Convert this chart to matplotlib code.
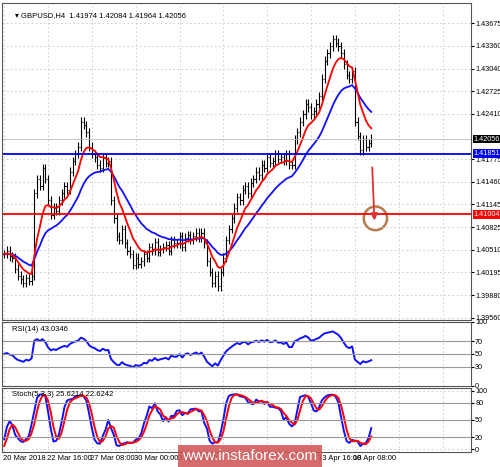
import numpy as np
import matplotlib
matplotlib.use("Agg")
import matplotlib.pyplot as plt
from matplotlib.patches import Ellipse

plt.rcParams['font.family'] = ['Liberation Sans', 'DejaVu Sans']

# GBPUSD H4 closes
closes = [1.4045,1.4050,1.4042,1.4040,1.4025,1.4015,1.4010,1.4005,1.4012,1.4008,
          1.4015,1.4130,1.4150,1.4140,1.4165,1.4150,1.4120,1.4100,1.4110,1.4105,
          1.4120,1.4130,1.4140,1.4135,1.4160,1.4175,1.4185,1.4195,1.4230,1.4225,
          1.4215,1.4195,1.4185,1.4180,1.4170,1.4165,1.4180,1.4172,1.4175,1.4120,
          1.4095,1.4070,1.4065,1.4080,1.4060,1.4050,1.4045,1.4030,1.4040,1.4032,
          1.4035,1.4045,1.4040,1.4055,1.4050,1.4062,1.4048,1.4052,1.4055,1.4058,
          1.4050,1.4065,1.4060,1.4060,1.4070,1.4055,1.4068,1.4072,1.4065,1.4070,
          1.4075,1.4068,1.4075,1.4060,1.4035,1.4020,1.4005,1.4015,1.4000,1.4020,
          1.4040,1.4065,1.4080,1.4095,1.4110,1.4125,1.4120,1.4135,1.4140,1.4130,
          1.4145,1.4150,1.4160,1.4155,1.4170,1.4165,1.4180,1.4172,1.4175,1.4185,
          1.4178,1.4180,1.4175,1.4185,1.4170,1.4170,1.4205,1.4215,1.4230,1.4240,
          1.4255,1.4250,1.4240,1.4245,1.4255,1.4265,1.4290,1.4315,1.4325,1.4335,
          1.4345,1.4340,1.4335,1.4325,1.4310,1.4295,1.4290,1.4300,1.4230,1.4210,
          1.4190,1.4205,1.4195,1.4200,1.4206]
price_ticks = [1.43675, 1.43360, 1.43040, 1.42725, 1.42410, 1.41775, 1.41460,
               1.41145, 1.40825, 1.40510, 1.40195, 1.39880, 1.39560]
date_labels = ["20 Mar 2018", "22 Mar 16:00", "27 Mar 08:00", "30 Mar 00:00",
               "3 Apr 16:00", "13 Apr 16:00", "18 Apr 08:00"]
date_pos = [0, 16, 32, 48, 64, 115, 128]
support = 1.41851
target = 1.41004
last = 1.42056

c = np.array(closes)
o = np.r_[c[0], c[:-1]]
hi = np.maximum(o, c) + 0.0006
lo = np.minimum(o, c) - 0.0006
n = len(c)
x = np.arange(n)

def ema(s, p, start=None):
    out = np.empty_like(s); out[0] = s[0] if start is None else start
    a = 2 / (p + 1)
    for i in range(1, len(s)):
        out[i] = a * s[i] + (1 - a) * out[i - 1]
    return out

def rsi(s, p=14):
    d = np.diff(s, prepend=s[0])
    up = ema(np.clip(d, 0, None), 2 * p - 1, 0.0006)
    dn = ema(np.clip(-d, 0, None), 2 * p - 1, 0.0006)
    return 100 - 100 / (1 + up / np.maximum(dn, 1e-9))

def stoch(k=5, sm=3):
    raw = np.array([(c[i] - lo[max(0, i - k + 1):i + 1].min()) /
                    (hi[max(0, i - k + 1):i + 1].max() - lo[max(0, i - k + 1):i + 1].min()) * 100
                    for i in range(n)])
    kk = np.convolve(raw, np.ones(sm) / sm, mode="full")[:n]
    dd = np.convolve(kk, np.ones(3) / 3, mode="full")[:n]
    return kk, dd

W, H = 500, 467
fig = plt.figure(figsize=(5, 4.67), dpi=100)
def box(l, t, r, b):
    return fig.add_axes([l / W, 1 - b / H, (r - l) / W, (b - t) / H])

xl = (-0.8, 170.4)
ax = box(2, 3, 471, 320)
ax.set_xlim(*xl); ax.set_ylim(1.39532, 1.43954)
ax.vlines(x, lo, hi, color="black", lw=0.8)
ax.hlines(o, x - 0.4, x, color="black", lw=0.8)
ax.hlines(c, x, x + 0.4, color="black", lw=0.8)
ax.plot(x, ema(c, 21), color="#1010ff", lw=1.3)
ax.plot(x, ema(c, 8), color="red", lw=1.3)
ax.axhline(support, color="#0000ee", lw=1.3)
ax.axhline(target, color="red", lw=1.3)
ax.axhline(last, color="#bbbbbb", lw=0.6)
ax.annotate("", xy=(135.2, 1.4088), xytext=(134.3, 1.4170),
            arrowprops=dict(arrowstyle="-|>", color="#e03030", lw=1.3))
ax.add_patch(Ellipse((135.5, 1.4095), 8.5, 0.0033, fill=False, ec="#b87c4c", lw=1.8))
ax.text(4, 1.4378, "\u25be GBPUSD,H4  1.41974 1.42084 1.41964 1.42056", fontsize=5.5,
        va="center", family=["Liberation Sans", "DejaVu Sans"])
for val, fc in [(last, "black"), (support, "#0000ee"), (target, "red")]:
    ax.text(1.006, val, f"{val:.5f}", transform=ax.get_yaxis_transform(), fontsize=5.2,
            color="white", va="center", bbox=dict(fc=fc, ec="none", pad=0.6))

rs = box(2, 322, 471, 386)
rs.set_xlim(*xl); rs.set_ylim(0, 100)
rs.plot(x, rsi(c), color="#1010ff", lw=1.4)
for lv in (30, 50, 70):
    rs.axhline(lv, color="#999999", lw=0.8)
rs.text(3, 94, "RSI(14) 43.0346", fontsize=5.5, va="top")

st = box(2, 388, 471, 452)
st.set_xlim(*xl); st.set_ylim(-5, 105)
kk, dd = stoch()
st.plot(x, kk, color="#1010ff", lw=1.4)
st.plot(x, dd, color="red", lw=1.4)
for lv in (20, 50, 80):
    st.axhline(lv, color="#999999", lw=0.8)
st.text(3, 100, "Stoch(5,3,3) 25.6214 22.6242", fontsize=5.5, va="top")

for a, ticks, labs in [(ax, price_ticks, [f"{t:.5f}" for t in price_ticks]),
                       (rs, [0, 30, 50, 70, 100], ["0", "30", "50", "70", "100"]),
                       (st, [0, 20, 50, 80, 100], ["0", "20", "50", "80", "100"])]:
    a.yaxis.tick_right()
    a.set_yticks(ticks); a.set_yticklabels(labs, fontsize=5.2)
    a.tick_params(axis="y", length=2, pad=1)
    a.set_xticks([p for p in range(0, 171, 16)])
    a.tick_params(axis="x", labelbottom=False, length=0)
    a.grid(True, ls=(0, (2, 3)), color="#c8c8c8", lw=0.6)
    for s in a.spines.values():
        s.set_color("#555555"); s.set_linewidth(0.8)

for p, lab in zip(date_pos, date_labels):
    st.text(p - 0.5, -10, lab, fontsize=5.5, va="top", ha="left")

fig.text(0.5, 1 - 456 / H, "www.instaforex.com", color="white", fontsize=11, ha="center",
         va="center", bbox=dict(fc="#d05050", ec="none", alpha=0.85, pad=3))
fig.savefig("out.png", dpi=100)
